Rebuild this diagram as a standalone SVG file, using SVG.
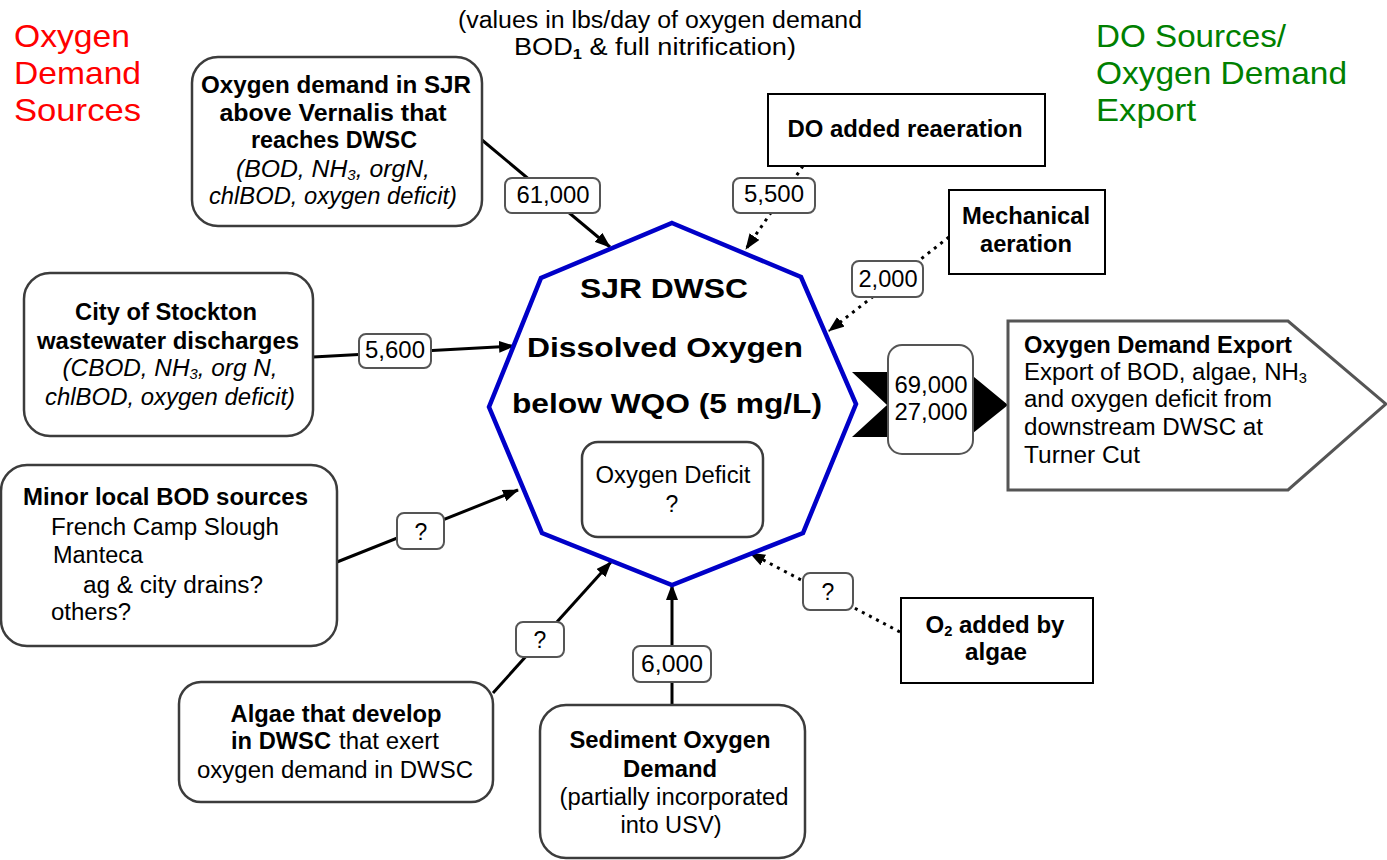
<svg xmlns="http://www.w3.org/2000/svg" width="1387" height="860" viewBox="0 0 1387 860">
<defs>
<marker id="ah" markerUnits="userSpaceOnUse" markerWidth="16" markerHeight="12" refX="15" refY="6" orient="auto">
<path d="M0,0 L16,6 L0,12 z" fill="#000"/>
</marker>
<style>
text{font-family:"Liberation Sans",Arial,Helvetica,sans-serif;fill:#000}
.b{font-weight:bold}
.i{font-style:italic}
.t{font-size:23px}
.c{text-anchor:middle}
.node{fill:#fff;stroke:#3c3c3c;stroke-width:2.5}
.rect{fill:#fff;stroke:#000;stroke-width:2}
.lab{fill:#fff;stroke:#555;stroke-width:2}
.sol{stroke:#000;stroke-width:3;fill:none}
.dot{stroke:#000;stroke-width:3;fill:none;stroke-dasharray:3 5}
.sub{font-size:14px}
</style>
</defs>
<rect width="1387" height="860" fill="#fff"/>

<g id="titles">
<text x="14" y="47" font-size="32" style="fill:#ff0000" textLength="116" lengthAdjust="spacingAndGlyphs">Oxygen</text>
<text x="14" y="84" font-size="32" style="fill:#ff0000" textLength="127" lengthAdjust="spacingAndGlyphs">Demand</text>
<text x="14" y="121" font-size="32" style="fill:#ff0000" textLength="127" lengthAdjust="spacingAndGlyphs">Sources</text>
<text x="1096" y="47" font-size="32" style="fill:#008000" textLength="190" lengthAdjust="spacingAndGlyphs">DO Sources/</text>
<text x="1096" y="84" font-size="32" style="fill:#008000" textLength="251" lengthAdjust="spacingAndGlyphs">Oxygen Demand</text>
<text x="1096" y="121" font-size="32" style="fill:#008000" textLength="100" lengthAdjust="spacingAndGlyphs">Export</text>
<text x="660" y="28" class="t c" textLength="404" lengthAdjust="spacingAndGlyphs">(values in lbs/day of oxygen demand</text>
<text x="655" y="55" class="t c" textLength="282" lengthAdjust="spacingAndGlyphs">BOD<tspan class="b sub" baseline-shift="-4">1</tspan> &amp; full nitrification)</text>
</g>

<g id="connectors">
<line class="sol" x1="482" y1="140" x2="610" y2="247" marker-end="url(#ah)"/>
<line class="sol" x1="313" y1="357" x2="514" y2="346" marker-end="url(#ah)"/>
<line class="sol" x1="337" y1="562" x2="518" y2="490" marker-end="url(#ah)"/>
<line class="sol" x1="493" y1="693" x2="611" y2="562" marker-end="url(#ah)"/>
<line class="sol" x1="672" y1="705" x2="672" y2="585" marker-end="url(#ah)"/>
<line class="dot" x1="803" y1="166" x2="746" y2="249" marker-end="url(#ah)"/>
<line class="dot" x1="949" y1="237" x2="829" y2="331" marker-end="url(#ah)"/>
<line class="dot" x1="900" y1="632" x2="750" y2="553" marker-end="url(#ah)"/>
<polygon points="852,372 968,372 1008,405 968,437 852,437 887,405" fill="#000"/>
</g>

<g id="sjr-above-vernalis">
<rect class="node" x="192" y="57" width="290" height="169" rx="26"/>
<text x="336" y="93" class="t b c" textLength="270" lengthAdjust="spacingAndGlyphs">Oxygen demand in SJR</text>
<text x="333" y="121" class="t b c" textLength="227" lengthAdjust="spacingAndGlyphs">above Vernalis that</text>
<text x="334" y="148" class="t b c" textLength="166" lengthAdjust="spacingAndGlyphs">reaches DWSC</text>
<text x="333" y="177" class="t i c" textLength="194" lengthAdjust="spacingAndGlyphs">(BOD, NH<tspan class="sub" baseline-shift="-3">3</tspan>, orgN,</text>
<text x="333" y="204" class="t i c" textLength="248" lengthAdjust="spacingAndGlyphs">chlBOD, oxygen deficit)</text>
</g>

<g id="stockton">
<rect class="node" x="24" y="273" width="289" height="163" rx="26"/>
<text x="166" y="320" class="t b c" textLength="182" lengthAdjust="spacingAndGlyphs">City of Stockton</text>
<text x="168" y="349" class="t b c" textLength="262" lengthAdjust="spacingAndGlyphs">wastewater discharges</text>
<text x="170" y="376" class="t i c" textLength="215" lengthAdjust="spacingAndGlyphs">(CBOD, NH<tspan class="sub" baseline-shift="-3">3</tspan>, org N,</text>
<text x="170" y="405" class="t i c" textLength="250" lengthAdjust="spacingAndGlyphs">chlBOD, oxygen deficit)</text>
</g>

<g id="minor-local">
<rect class="node" x="1" y="465" width="336" height="181" rx="26"/>
<text x="23" y="505" class="t b" textLength="285" lengthAdjust="spacingAndGlyphs">Minor local BOD sources</text>
<text x="51" y="535" class="t" textLength="228" lengthAdjust="spacingAndGlyphs">French Camp Slough</text>
<text x="53" y="563" class="t" textLength="90" lengthAdjust="spacingAndGlyphs">Manteca</text>
<text x="83" y="593" class="t" textLength="180" lengthAdjust="spacingAndGlyphs">ag &amp; city drains?</text>
<text x="51" y="620" class="t" textLength="80" lengthAdjust="spacingAndGlyphs">others?</text>
</g>

<g id="algae-dwsc">
<rect class="node" x="179" y="682" width="314" height="120" rx="22"/>
<text x="336" y="722" class="t b c" textLength="211" lengthAdjust="spacingAndGlyphs">Algae that develop</text>
<text x="231" y="749" class="t b" textLength="100" lengthAdjust="spacingAndGlyphs">in DWSC</text>
<text x="339" y="749" class="t" textLength="100" lengthAdjust="spacingAndGlyphs">that exert</text>
<text x="335" y="778" class="t c" textLength="276" lengthAdjust="spacingAndGlyphs">oxygen demand in DWSC</text>
</g>

<g id="sediment">
<rect class="node" x="540" y="705" width="265" height="153" rx="26"/>
<text x="670" y="748" class="t b c" textLength="201" lengthAdjust="spacingAndGlyphs">Sediment Oxygen</text>
<text x="670" y="777" class="t b c" textLength="94" lengthAdjust="spacingAndGlyphs">Demand</text>
<text x="674" y="805" class="t c" textLength="229" lengthAdjust="spacingAndGlyphs">(partially incorporated</text>
<text x="671" y="833" class="t c" textLength="101" lengthAdjust="spacingAndGlyphs">into USV)</text>
</g>

<g id="do-reaeration">
<rect class="rect" x="768" y="94" width="277" height="72"/>
<text x="905" y="137" class="t b c" textLength="235" lengthAdjust="spacingAndGlyphs">DO added reaeration</text>
</g>

<g id="mechanical">
<rect class="rect" x="949" y="190" width="156" height="84"/>
<text x="1026" y="224" class="t b c" textLength="128" lengthAdjust="spacingAndGlyphs">Mechanical</text>
<text x="1026" y="252" class="t b c" textLength="92" lengthAdjust="spacingAndGlyphs">aeration</text>
</g>

<g id="o2-algae">
<rect class="rect" x="901" y="598" width="192" height="85"/>
<text x="995" y="633" class="t b c" textLength="139" lengthAdjust="spacingAndGlyphs">O<tspan class="sub" baseline-shift="-3">2</tspan> added by</text>
<text x="996" y="660" class="t b c" textLength="62" lengthAdjust="spacingAndGlyphs">algae</text>
</g>

<g id="export">
<polygon points="1008,321 1288,321 1386,404 1288,490 1008,490" fill="#fff" stroke="#555" stroke-width="3"/>
<text x="1024" y="353" class="t b" textLength="268" lengthAdjust="spacingAndGlyphs">Oxygen Demand Export</text>
<text x="1024" y="380" class="t" textLength="283" lengthAdjust="spacingAndGlyphs">Export of BOD, algae, NH<tspan class="sub" baseline-shift="-3">3</tspan></text>
<text x="1024" y="407" class="t" textLength="248" lengthAdjust="spacingAndGlyphs">and oxygen deficit from</text>
<text x="1024" y="435" class="t" textLength="239" lengthAdjust="spacingAndGlyphs">downstream DWSC at</text>
<text x="1024" y="463" class="t" textLength="116" lengthAdjust="spacingAndGlyphs">Turner Cut</text>
</g>

<g id="sjr-dwsc">
<polygon points="672,223 801,277 856,404 803,533 672,585 542,533 489,407 541,278" fill="#fff" stroke="#0000c8" stroke-width="4.5" stroke-linejoin="miter"/>
<text x="664" y="298" font-size="28" class="b c" textLength="168" lengthAdjust="spacingAndGlyphs">SJR DWSC</text>
<text x="665" y="357" font-size="28" class="b c" textLength="276" lengthAdjust="spacingAndGlyphs">Dissolved Oxygen</text>
<text x="667" y="413" font-size="28" class="b c" textLength="310" lengthAdjust="spacingAndGlyphs">below WQO (5 mg/L)</text>
</g>

<g id="oxygen-deficit">
<rect class="node" x="582" y="442" width="181" height="95" rx="16" stroke-width="2"/>
<text x="673" y="483" class="t c" textLength="155" lengthAdjust="spacingAndGlyphs">Oxygen Deficit</text>
<text x="672" y="512" class="t c">?</text>
</g>

<g id="labels">
<rect class="lab" x="505" y="178" width="95" height="35" rx="7"/>
<text x="553" y="203" class="t c" textLength="73" lengthAdjust="spacingAndGlyphs">61,000</text>
<rect class="lab" x="733" y="178" width="82" height="35" rx="7"/>
<text x="774" y="202" class="t c" textLength="60" lengthAdjust="spacingAndGlyphs">5,500</text>
<rect class="lab" x="852" y="261" width="71" height="36" rx="7"/>
<text x="888" y="287" class="t c" textLength="59" lengthAdjust="spacingAndGlyphs">2,000</text>
<rect class="lab" x="359" y="334" width="72" height="34" rx="7"/>
<text x="395" y="358" class="t c" textLength="60" lengthAdjust="spacingAndGlyphs">5,600</text>
<rect class="lab" x="397" y="513" width="47" height="36" rx="7"/>
<text x="421" y="540" class="t c">?</text>
<rect class="lab" x="516" y="622" width="48" height="35" rx="7"/>
<text x="540" y="648" class="t c">?</text>
<rect class="lab" x="633" y="646" width="78" height="36" rx="7"/>
<text x="672" y="672" class="t c" textLength="62" lengthAdjust="spacingAndGlyphs">6,000</text>
<rect class="lab" x="803" y="573" width="50" height="37" rx="7"/>
<text x="828" y="600" class="t c">?</text>
<rect class="lab" x="888" y="345" width="85" height="109" rx="14"/>
<text x="931" y="393" class="t c" textLength="73" lengthAdjust="spacingAndGlyphs">69,000</text>
<text x="931" y="420" class="t c" textLength="73" lengthAdjust="spacingAndGlyphs">27,000</text>
</g>
</svg>
